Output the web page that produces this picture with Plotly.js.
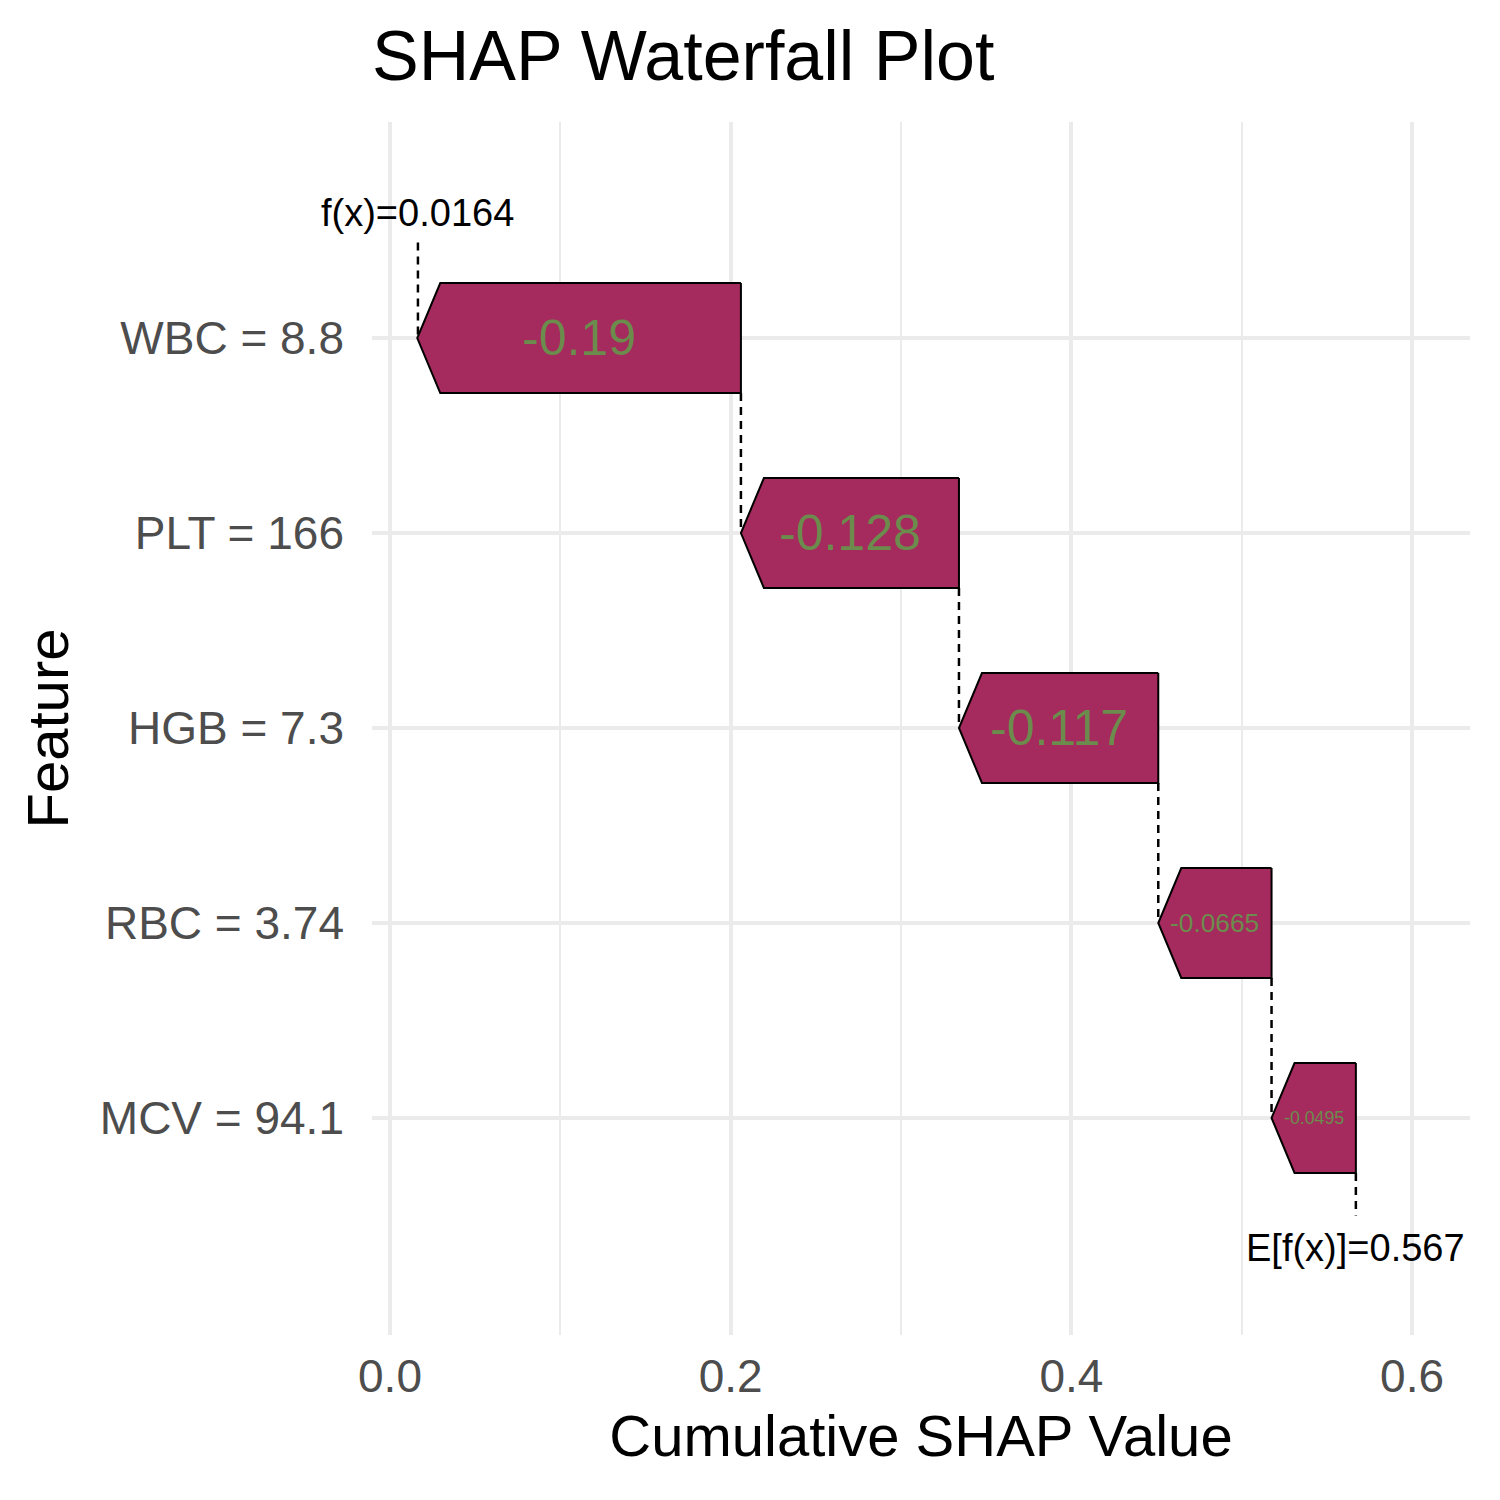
<!DOCTYPE html>
<html>
<head>
<meta charset="utf-8">
<script src="https://cdn.plot.ly/plotly-3.0.1.min.js"></script>
<style>html,body{margin:0;padding:0;background:#fff;}#chart{width:1500px;height:1500px;}</style>
</head>
<body>
<div id="chart"></div>
<script>
// ---- data ----
const features = ["WBC = 8.8", "PLT = 166", "HGB = 7.3", "RBC = 3.74", "MCV = 94.1"];
const shapValues = [-0.19, -0.128, -0.117, -0.0665, -0.0495];
const shapLabels = ["-0.19", "-0.128", "-0.117", "-0.0665", "-0.0495"];
const baseValue = 0.567;
const fxValue = 0.0164;
const baseLabel = "E[f(x)]=0.567";
const fxLabel = "f(x)=0.0164";
const xTickVals = [0.0, 0.2, 0.4, 0.6];
const xTickText = ["0.0", "0.2", "0.4", "0.6"];

// ---- geometry / style ----
const W = 1500, H = 1500;
const margin = {l: 372, r: 30, t: 122, b: 165};
const xRange = [-0.01057, 0.634];
const yRange = [-0.113, 6.108];
const halfH = 0.282;
const arrow = 0.0135;
const fillColor = "#A52B5E";
const textColor = "#6B8C4C";
const font = "Liberation Sans, Arial, sans-serif";

const pxPerUnit = (W - margin.l - margin.r) / (xRange[1] - xRange[0]);
const cw = {'-':0.333,'.':0.278,'0':0.556,'1':0.556,'2':0.556,'3':0.556,'4':0.556,'5':0.556,'6':0.556,'7':0.556,'8':0.556,'9':0.556};
function emWidth(s){let w=0;for(const c of s)w+=(cw[c]||0.556);return w;}

const n = features.length;
const yPos = features.map((_, i) => n - i); // WBC=5 ... MCV=1
const starts = new Array(n), ends = new Array(n);
let cur = baseValue;
for (let i = n - 1; i >= 0; i--) {
  starts[i] = cur;
  ends[i] = cur + shapValues[i];
  cur = ends[i];
}

const traces = [];
const dash = {color: "black", width: 2.5, dash: "8px,6px"};
for (let i = 0; i < n - 1; i++) {
  traces.push({x: [starts[i], starts[i]], y: [yPos[i] - halfH, yPos[i + 1]], mode: "lines", line: dash, hoverinfo: "skip", showlegend: false});
}
traces.push({x: [fxValue, fxValue], y: [yPos[0] + 0.49, yPos[0]], mode: "lines", line: dash, hoverinfo: "skip", showlegend: false});
traces.push({x: [baseValue, baseValue], y: [yPos[n - 1] - halfH, yPos[n - 1] - 0.5], mode: "lines", line: dash, hoverinfo: "skip", showlegend: false});

for (let i = 0; i < n; i++) {
  const s = starts[i], e = ends[i], y = yPos[i];
  const a = shapValues[i] < 0 ? arrow : -arrow;
  traces.push({
    x: [s, e + a, e, e + a, s, s],
    y: [y + halfH, y + halfH, y, y - halfH, y - halfH, y + halfH],
    mode: "lines", fill: "toself", fillcolor: fillColor,
    line: {color: "black", width: 2}, hoverinfo: "skip", showlegend: false
  });
}

const annotations = [];
for (let i = 0; i < n; i++) {
  const wpx = Math.abs(shapValues[i]) * pxPerUnit;
  const size = Math.min(50, (wpx - 24) / emWidth(shapLabels[i]));
  annotations.push({x: (starts[i] + ends[i]) / 2, y: yPos[i], text: shapLabels[i], showarrow: false,
    xanchor: "center", yanchor: "middle", font: {family: font, size: size, color: textColor}});
}
annotations.push({x: fxValue, y: yPos[0] + 0.64, text: fxLabel, showarrow: false, xanchor: "center", yanchor: "middle",
  font: {family: font, size: 38, color: "black"}});
annotations.push({x: baseValue, y: yPos[n - 1] - 0.667, text: baseLabel, showarrow: false, xanchor: "center", yanchor: "middle",
  font: {family: font, size: 38, color: "black"}});

const layout = {
  width: W, height: H, margin: margin,
  paper_bgcolor: "white", plot_bgcolor: "white",
  font: {family: font},
  title: {text: "SHAP Waterfall Plot", font: {family: font, size: 70, color: "black"},
    xref: "paper", x: 0, xanchor: "left", yref: "container", y: 1 - 55 / H, yanchor: "middle"},
  xaxis: {range: xRange, tickvals: xTickVals, ticktext: xTickText, zeroline: false, showline: false,
    gridcolor: "#EBEBEB", gridwidth: 4,
    minor: {tickvals: [0.1, 0.3, 0.5], showgrid: true, gridcolor: "#EBEBEB", gridwidth: 2},
    tickfont: {family: font, size: 46, color: "#4D4D4D"}, ticks: "", ticklabelstandoff: 10,
    title: {text: "Cumulative SHAP Value", font: {family: font, size: 58, color: "black"}, standoff: 14}},
  yaxis: {range: yRange, tickvals: yPos, ticktext: features, zeroline: false, showline: false,
    gridcolor: "#EBEBEB", gridwidth: 4,
    tickfont: {family: font, size: 46, color: "#4D4D4D"}, ticks: "", ticklabelstandoff: 27,
    title: {text: "Feature", font: {family: font, size: 58, color: "black"}, standoff: 12}},
  annotations: annotations
};

Plotly.newPlot("chart", traces, layout, {displayModeBar: false, staticPlot: true});
</script>
</body>
</html>
